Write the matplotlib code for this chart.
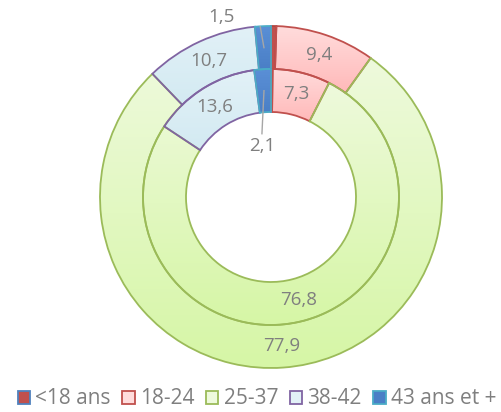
import matplotlib
matplotlib.use("Agg")
import matplotlib.pyplot as plt
import numpy as np
from matplotlib.patches import Patch

# data (outer ring = first series, inner ring = second series)
categories = ["<18 ans", "18-24", "25-37", "38-42", "43 ans et +"]
outer_values = [0.5, 9.4, 77.9, 10.7, 1.5]
inner_values = [0.2, 7.3, 76.8, 13.6, 2.1]
outer_labels = ["", "9,4", "77,9", "10,7", "1,5"]
inner_labels = ["", "7,3", "76,8", "13,6", "2,1"]

# gradient top -> bottom, edge colour
fills = [("#C0504D", "#C0504D"), ("#FFDCDC", "#FFB9B9"), ("#EEFADC", "#D6F6A6"),
         ("#E2F1F7", "#D3EAF2"), ("#5A8FD6", "#4A7FC6")]
edges = ["#B0453F", "#C0504D", "#9BBB59", "#8064A2", "#4BACC6"]
legend_edges = ["#4F81BD", "#C0504D", "#9BBB59", "#8064A2", "#4BACC6"]
GRAY = "#7F7F7F"

plt.rcParams["font.family"] = ["Open Sans", "DejaVu Sans"]

fig = plt.figure(figsize=(5.02, 4.12), dpi=100)
ax = fig.add_axes([100 / 502, 44 / 412, 342 / 502, 342 / 412])

R_OUT = 1.0
W = 43 / 171
R_IN = R_OUT - W


def ring(values, radius):
    wedges, _ = ax.pie(values, radius=radius, startangle=90, counterclock=False,
                       wedgeprops=dict(width=W, linewidth=1.3))
    for i, w in enumerate(wedges):
        ext = w.get_path().get_extents()
        top, bot = fills[i]
        c1 = np.array(matplotlib.colors.to_rgb(top))
        c2 = np.array(matplotlib.colors.to_rgb(bot))
        t = np.linspace(0, 1, 64)[:, None, None]
        grad = c1 * (1 - t) + c2 * t
        im = ax.imshow(grad, extent=[ext.x0, ext.x1, ext.y0, ext.y1],
                       origin="upper", aspect="auto", zorder=1, interpolation="bilinear")
        im.set_clip_path(w)
        w.set_facecolor("none")
        w.set_edgecolor(edges[i])
        w.set_zorder(2)
    return wedges


outer = ring(outer_values, R_OUT)
inner = ring(inner_values, R_IN)


def mid(w):
    a = np.deg2rad((w.theta1 + w.theta2) / 2)
    r = w.r - W / 2
    return r * np.cos(a), r * np.sin(a)


FS = 13.5
for wedges, labels in ((outer, outer_labels), (inner, inner_labels)):
    for w, lab in zip(wedges[:4], labels[:4]):
        if lab:
            x, y = mid(w)
            ax.text(x, y, lab, ha="center", va="center", fontsize=FS, color=GRAY, zorder=5)

# small slices: labels outside with leader lines
x, y = mid(outer[4])
ax.text(-0.29, 1.05, outer_labels[4], ha="center", va="center", fontsize=FS, color=GRAY, zorder=5)
ax.plot([-0.16, -0.075, x], [1.066, 1.066, y], color="#A6A6A6", lw=1, zorder=4)
x, y = mid(inner[4])
ax.text(-0.053, 0.30, inner_labels[4], ha="center", va="center", fontsize=FS, color=GRAY, zorder=5)
ax.plot([-0.053, x], [0.37, y], color="#A6A6A6", lw=1, zorder=4)

ax.set_xlim(-1, 1)
ax.set_ylim(-1, 1)
ax.set_aspect("equal")
ax.axis("off")

handles = [Patch(facecolor=fills[i][1] if i in (0, 4) else fills[i][0],
                 edgecolor=legend_edges[i], linewidth=1.3) for i in range(5)]
fig.legend(handles, categories, loc="center", bbox_to_anchor=(257 / 502, 1 - 399 / 412),
           ncol=5, frameon=False, fontsize=15, labelcolor=GRAY,
           handlelength=0.6, handleheight=0.6, handletextpad=0.25, columnspacing=0.55,
           borderaxespad=0)

fig.savefig("out.png", dpi=100)
